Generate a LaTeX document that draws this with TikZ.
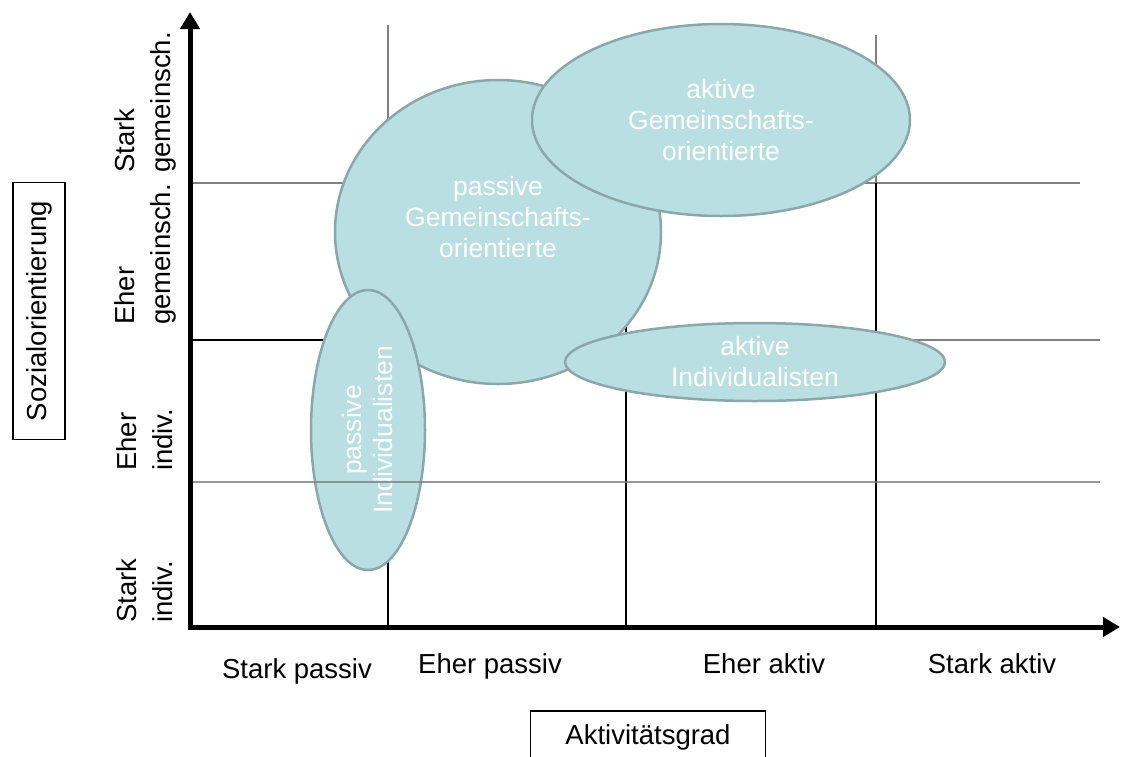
\documentclass[tikz,border=0pt]{standalone}
\usepackage{fontspec}
\setmainfont{Liberation Sans}
\usetikzlibrary{shapes.geometric,arrows.meta}
\definecolor{blobfill}{RGB}{185,223,226}
\definecolor{blobline}{RGB}{138,168,170}
\begin{document}
\begin{tikzpicture}[x=1pt, y=-1pt,
    blob/.style={draw=blobline, fill=blobfill, ellipse, line width=2.5pt,
                 inner sep=0pt, text=white, align=center,
                 font=\fontsize{26.5}{31}\selectfont},
    gridline/.style={line width=2pt, black!50},
    darkline/.style={line width=2pt, black},
    axisline/.style={line width=5pt, -{Triangle[length=17pt, width=19pt]}},
    lbl/.style={font=\fontsize{27.5}{36}\selectfont, align=left, inner sep=0pt},
    titlebox/.style={draw, line width=1.5pt, inner sep=0pt,
                     font=\fontsize{27.5}{30}\selectfont}
]
\useasboundingbox (0,0) rectangle (1122,756);

\draw [gridline] (190,183) -- (1080,183);
\draw [darkline] (190,340) -- (626,340);
\draw [gridline] (626,340) -- (1100,340);
\draw [gridline] (388,25) -- (388,300);
\draw [darkline] (388,300) -- (388,627);
\draw [darkline] (626,183) -- (626,627);
\draw [gridline] (876,35) -- (876,183);
\draw [darkline] (876,183) -- (876,627);

\node (pgem) [blob, minimum width=326pt, minimum height=304pt] at (498,232) {};
\node (pgemtext) [blob, draw=none, fill=none] at (498,217) {passive\\Gemeinschafts-\\orientierte};
\node (agem) [blob, minimum width=378pt, minimum height=192pt] at (721,120) {aktive\\Gemeinschafts-\\orientierte};
\node (pind) [blob, rotate=90, minimum width=280pt, minimum height=114pt] at (368,430) {passive\\Individualisten};
\node (aind) [blob, minimum width=380pt, minimum height=78pt] at (755,362) {aktive\\Individualisten};

\draw [gridline, opacity=.8] (190,482) -- (1100,482);

\coordinate (origin) at (190,627);
\coordinate (ytip) at (190,12);
\coordinate (xtip) at (1120,627);
\draw [axisline] ([yshift=-2.5pt]origin) -- (ytip);
\draw [axisline] ([xshift=-2.5pt]origin) -- (xtip);

\node (spassiv) [lbl, anchor=base] at (297,678) {Stark passiv};
\node (epassiv) [lbl, anchor=base] at (490,673) {Eher passiv};
\node (eaktiv) [lbl, anchor=base] at (764,673) {Eher aktiv};
\node (saktiv) [lbl, anchor=base] at (992,673) {Stark aktiv};

\node (sgem) [lbl, rotate=90, anchor=west] at (145,173) {Stark\\gemeinsch.};
\node (egem) [lbl, rotate=90, anchor=west] at (145,325) {Eher\\gemeinsch.};
\node (eind) [lbl, rotate=90, anchor=west] at (145,471) {Eher\\indiv.};
\node (sind) [lbl, rotate=90, anchor=west] at (145,623) {Stark\\indiv.};

\node (sozial) [titlebox, rotate=90, minimum width=257pt, minimum height=52pt] at (39,311) {Sozialorientierung};
\node (grad) [titlebox, minimum width=235pt, minimum height=52pt] at (648,737) {Aktivitätsgrad};
\end{tikzpicture}
\end{document}
